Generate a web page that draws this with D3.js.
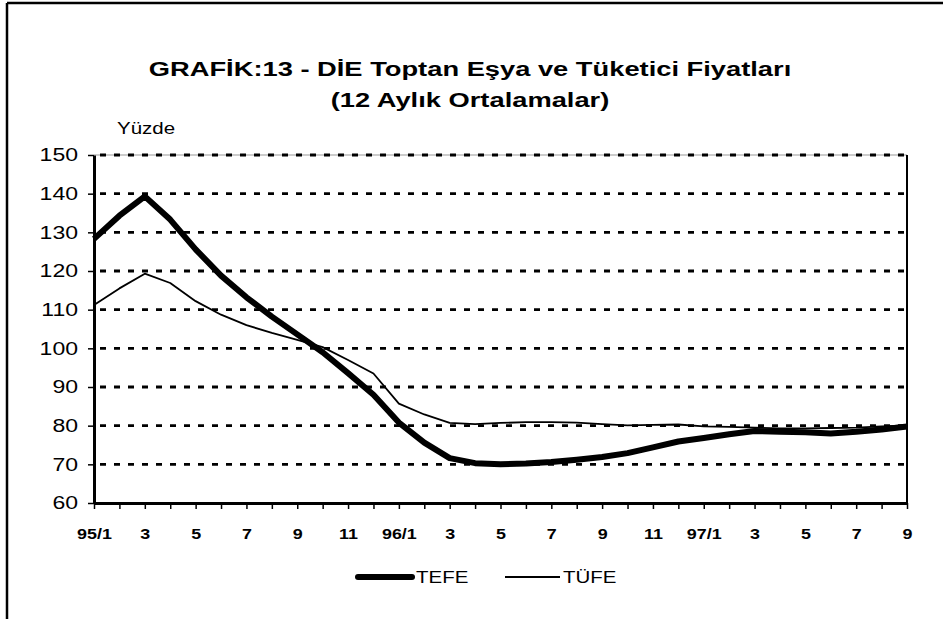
<!DOCTYPE html>
<html>
<head>
<meta charset="utf-8">
<script src="https://cdn.jsdelivr.net/npm/d3@7"></script>
<style>
  body { margin: 0; background: #fff; }
  svg { font-family: Arial, "Liberation Sans", sans-serif; }
</style>
</head>
<body>
<div class="svg-container"></div>
<script>
// months 95/1 .. 97/9
const months = [
    "95/1","95/2","95/3","95/4","95/5","95/6","95/7","95/8","95/9","95/10","95/11","95/12",
    "96/1","96/2","96/3","96/4","96/5","96/6","96/7","96/8","96/9","96/10","96/11","96/12",
    "97/1","97/2","97/3","97/4","97/5","97/6","97/7","97/8","97/9"
];
const tickLabels = {
    "95/1": "95/1", "95/3": "3", "95/5": "5", "95/7": "7", "95/9": "9", "95/11": "11",
    "96/1": "96/1", "96/3": "3", "96/5": "5", "96/7": "7", "96/9": "9", "96/11": "11",
    "97/1": "97/1", "97/3": "3", "97/5": "5", "97/7": "7", "97/9": "9"
};
const tefe = [
    128.3, 134.3, 139.3, 133.3, 125.6, 118.8, 113.2, 108.2, 103.6, 99.0, 93.6, 88.0,
    80.8, 75.6, 71.6, 70.3, 70.0, 70.2, 70.6, 71.2, 71.9, 72.9, 74.4, 75.9,
    76.8, 77.8, 78.6, 78.4, 78.3, 78.0, 78.4, 79.0, 79.8
];
const tufe = [
    111.2, 115.5, 119.3, 116.9, 112.2, 108.7, 106.0, 104.0, 102.2, 100.3, 97.0, 93.5,
    85.7, 82.9, 80.7, 80.4, 80.7, 80.9, 80.9, 80.8, 80.4, 80.1, 80.2, 80.3,
    79.8, 79.7, 79.5, 79.3, 79.3, 79.4, 79.5, 79.8, 80.1
];
const yTicks = [60, 70, 80, 90, 100, 110, 120, 130, 140, 150];

const width = 943;
const height = 619;
const SX = 1.28; // text in the original is horizontally stretched

const svg = d3.select(".svg-container").append("svg")
    .attr("width", width)
    .attr("height", height);

// stretched text helper
function label(x, y, txt, size, opts = {}) {
    return svg.append("text")
        .attr("transform", "translate(" + x + "," + y + ") scale(" + (opts.sx || SX) + ",1)")
        .attr("font-size", size)
        .attr("text-anchor", opts.anchor || "start")
        .attr("font-weight", opts.bold ? "bold" : "normal")
        .text(txt);
}

// outer frame (top + left only)
svg.append("line").attr("x1", 7).attr("x2", width).attr("y1", 3).attr("y2", 3)
    .attr("stroke", "#000").attr("stroke-width", 2.5);
svg.append("line").attr("x1", 7).attr("x2", 7).attr("y1", 3).attr("y2", height)
    .attr("stroke", "#000").attr("stroke-width", 2.5);

// title
label(470, 76, "GRAFİK:13 - DİE Toptan Eşya ve Tüketici Fiyatları", 21, { anchor: "middle", bold: true, sx: 1.3 });
label(470, 107, "(12 Aylık Ortalamalar)", 21, { anchor: "middle", bold: true, sx: 1.3 });

label(117, 134, "Yüzde", 16);

const xScale = d3.scalePoint().domain(months).range([94, 907]);
const yScale = d3.scaleLinear().domain([60, 150]).range([503, 155]);

// gridlines
svg.append("line").attr("x1", 94).attr("x2", 907)
    .attr("y1", yScale(150)).attr("y2", yScale(150))
    .attr("stroke", "#999").attr("stroke-width", 1);
svg.append("g").selectAll(".grid")
    .data(yTicks.filter(d => d > 60))
    .enter()
    .append("line")
    .classed("grid", true)
    .attr("x1", 100)
    .attr("x2", 907)
    .attr("y1", d => yScale(d))
    .attr("y2", d => yScale(d))
    .attr("stroke", "#000")
    .attr("stroke-width", 2.8)
    .attr("stroke-dasharray", "6,8");

// right border
svg.append("line").attr("x1", 907).attr("x2", 907)
    .attr("y1", yScale(150)).attr("y2", yScale(60))
    .attr("stroke", "#000").attr("stroke-width", 2);

// y axis
const yAxis = svg.append("g")
    .attr("transform", "translate(94,0)")
    .call(d3.axisLeft(yScale).tickValues(yTicks).tickSize(6).tickSizeOuter(0).tickPadding(0));
yAxis.select(".domain").attr("stroke-width", 3);
yAxis.selectAll(".tick line").attr("stroke-width", 1.5);
yAxis.selectAll(".tick text")
    .attr("x", 0)
    .attr("transform", "translate(-16,0) scale(" + SX + ",1)")
    .attr("font-size", 18).attr("fill", "#000")
    .attr("font-family", "Arial, 'Liberation Sans', sans-serif");

// x axis
const xAxis = svg.append("g")
    .attr("transform", "translate(0," + yScale(60) + ")")
    .call(d3.axisBottom(xScale).tickSize(6).tickSizeOuter(0).tickPadding(20)
        .tickFormat(d => tickLabels[d] || ""));
xAxis.select(".domain").attr("stroke-width", 3);
xAxis.selectAll(".tick line").attr("stroke-width", 1.5);
xAxis.selectAll(".tick text")
    .attr("transform", "scale(" + SX + ",1)")
    .attr("font-size", 14).attr("font-weight", "bold").attr("fill", "#000")
    .attr("font-family", "Arial, 'Liberation Sans', sans-serif");

// lines
const line = d3.line()
    .x((d, i) => xScale(months[i]))
    .y(d => yScale(d));

svg.append("path").datum(tufe)
    .attr("d", line)
    .attr("fill", "none").attr("stroke", "#000").attr("stroke-width", 1.8)
    .attr("stroke-linejoin", "round");
svg.append("path").datum(tefe)
    .attr("d", line)
    .attr("fill", "none").attr("stroke", "#000").attr("stroke-width", 6)
    .attr("stroke-linejoin", "round");

// legend
svg.append("line").attr("x1", 358).attr("x2", 412).attr("y1", 577).attr("y2", 577)
    .attr("stroke", "#000").attr("stroke-width", 6).attr("stroke-linecap", "round");
label(416, 583, "TEFE", 16);
svg.append("line").attr("x1", 505).attr("x2", 560).attr("y1", 577).attr("y2", 577)
    .attr("stroke", "#000").attr("stroke-width", 1.8);
label(563, 583, "TÜFE", 16);
</script>
</body>
</html>
